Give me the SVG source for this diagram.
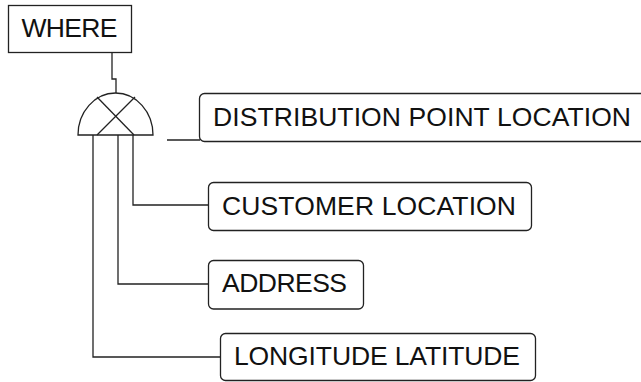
<svg xmlns="http://www.w3.org/2000/svg" width="641" height="382" viewBox="0 0 641 382">
  <style>
    .box { fill: #ffffff; stroke: #222222; stroke-width: 1.3; }
    .wire { fill: none; stroke: #222222; stroke-width: 1.3; }
    .label { font-family: "Liberation Sans", Arial, sans-serif; font-size: 26.5px; fill: #111111; }
  </style>
  <rect width="641" height="382" fill="#ffffff"/>

  <!-- connectors -->
  <g id="connectors" class="wire">
    <polyline points="112,53 112,79 116,79 116,93"/>
    <polyline points="93,135 93,357 220,357"/>
    <polyline points="118,135 118,284 208,284"/>
    <polyline points="133,135 133,205 208,205"/>
    <line x1="167" y1="140" x2="200" y2="140"/>
  </g>

  <!-- aggregation gate: half-dome with a cross -->
  <g id="gate" class="wire">
    <path d="M78,135 A37.5,42 0 0 1 153,135 Z" fill="#ffffff"/>
    <line x1="97" y1="97" x2="134" y2="135"/>
    <line x1="135" y1="97" x2="97" y2="135"/>
  </g>

  <g id="where">
    <rect class="box" x="8.5" y="5.5" width="123" height="47"/>
    <text class="label" x="21.5" y="37" textLength="96">WHERE</text>
  </g>

  <g id="distribution-point-location">
    <rect class="box" x="199.5" y="93.5" width="460" height="48" rx="5"/>
    <text class="label" x="213" y="126" textLength="418">DISTRIBUTION POINT LOCATION</text>
  </g>

  <g id="customer-location">
    <rect class="box" x="208.5" y="182.5" width="323" height="48" rx="5"/>
    <text class="label" x="222" y="214.5" textLength="294">CUSTOMER LOCATION</text>
  </g>

  <g id="address">
    <rect class="box" x="208.5" y="260.5" width="155" height="48.5" rx="5"/>
    <text class="label" x="222" y="292" textLength="125">ADDRESS</text>
  </g>

  <g id="longitude-latitude">
    <rect class="box" x="220.5" y="333.5" width="315" height="47" rx="5"/>
    <text class="label" x="234" y="364.5" textLength="286">LONGITUDE LATITUDE</text>
  </g>
</svg>
